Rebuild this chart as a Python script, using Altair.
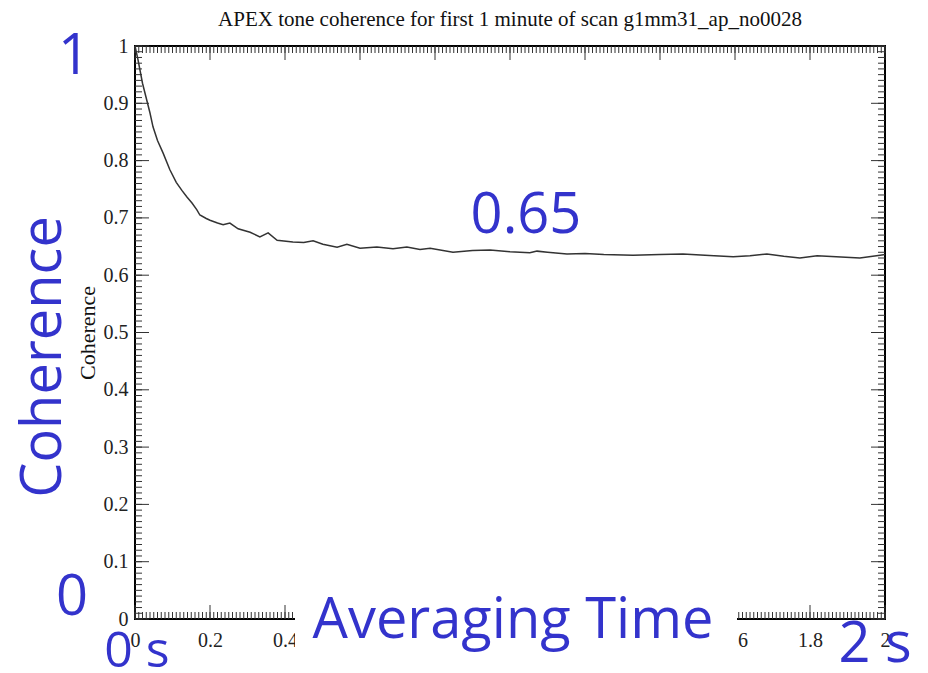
import altair as alt
import pandas as pd

# ---- data ----
times = [0, 0.008, 0.02, 0.04, 0.048, 0.06, 0.075, 0.093, 0.11, 0.125,
         0.139, 0.152, 0.165, 0.173, 0.19, 0.2, 0.22, 0.235, 0.253, 0.275,
         0.307, 0.333, 0.355, 0.379, 0.421, 0.45, 0.475, 0.501, 0.539, 0.565,
         0.6, 0.645, 0.688, 0.725, 0.76, 0.787, 0.848, 0.9, 0.947, 1.0,
         1.053, 1.072, 1.1, 1.152, 1.2, 1.25, 1.328, 1.4, 1.461, 1.52,
         1.595, 1.64, 1.685, 1.73, 1.773, 1.819, 1.87, 1.933, 1.987, 2.0]
coherence = [1.0, 0.976, 0.935, 0.883, 0.859, 0.835, 0.813, 0.784, 0.762, 0.748,
             0.736, 0.726, 0.714, 0.705, 0.699, 0.696, 0.691, 0.688, 0.691, 0.681,
             0.675, 0.667, 0.674, 0.661, 0.658, 0.657, 0.660, 0.654, 0.649, 0.654,
             0.647, 0.649, 0.646, 0.649, 0.645, 0.647, 0.640, 0.643, 0.644, 0.641,
             0.639, 0.642, 0.640, 0.637, 0.638, 0.636, 0.635, 0.636, 0.637, 0.635,
             0.632, 0.634, 0.637, 0.633, 0.630, 0.634, 0.632, 0.630, 0.635, 0.636]

x_major = [0, 0.2, 0.4, 0.6, 0.8, 1.0, 1.2, 1.4, 1.6, 1.8, 2.0]
y_major = [0, 0.1, 0.2, 0.3, 0.4, 0.5, 0.6, 0.7, 0.8, 0.9, 1.0]
x_minor = [i / 100 for i in range(0, 201)]
y_minor = [i / 100 for i in range(0, 101)]

title_text = "APEX tone coherence for first 1 minute of scan g1mm31_ap_no0028"
y_title = "Coherence"

W, H = 750, 573
SERIF = "Liberation Serif"
BLUE = "#3333CC"
BIG = "Open Sans"

xs = alt.Scale(domain=[0, 2], nice=False, zero=False)
ys = alt.Scale(domain=[0, 1], nice=False, zero=False)

x_axis = alt.Axis(values=x_major, format="~g", title=None, grid=False,
                  domain=False, ticks=False, labelFont=SERIF,
                  labelFontSize=20, labelColor="#222222", labelPadding=11,
                  labelFlush=False, labelOverlap=False)
y_axis = alt.Axis(values=y_major, format="~g", title=y_title, grid=False,
                  domain=False, ticks=False, labelFont=SERIF,
                  labelFontSize=20, labelColor="#222222", labelPadding=7,
                  labelFlush=False, labelOverlap=False,
                  titleFont=SERIF, titleFontSize=22, titleFontWeight="normal",
                  titleColor="#111111", titlePadding=4)

df = pd.DataFrame({"time": times, "coh": coherence})
dxM = pd.DataFrame({"t": x_major})
dxm = pd.DataFrame({"t": x_minor})
dyM = pd.DataFrame({"t": y_major})
dym = pd.DataFrame({"t": y_minor})
one = pd.DataFrame({"a": [0]})

line = alt.Chart(df).mark_line(color="#333333", strokeWidth=1.5).encode(
    x=alt.X("time:Q", scale=xs, axis=x_axis, title=None),
    y=alt.Y("coh:Q", scale=ys, axis=y_axis, title=y_title),
)

frame = alt.Chart(one).mark_rect(fill=None, stroke="black", strokeWidth=2).encode(
    x=alt.value(0), x2=alt.value(W), y=alt.value(0), y2=alt.value(H))

def xticks(d, L):
    bot = alt.Chart(d).mark_rule(color="#333333", strokeWidth=1).encode(
        x=alt.X("t:Q", scale=xs, axis=x_axis, title=None),
        y=alt.value(H), y2=alt.value(H - L))
    top = alt.Chart(d).mark_rule(color="#333333", strokeWidth=1).encode(
        x=alt.X("t:Q", scale=xs, axis=x_axis, title=None),
        y=alt.value(0), y2=alt.value(L))
    return [bot, top]

def yticks(d, L):
    left = alt.Chart(d).mark_rule(color="#333333", strokeWidth=1).encode(
        y=alt.Y("t:Q", scale=ys, axis=y_axis, title=y_title),
        x=alt.value(0), x2=alt.value(L))
    right = alt.Chart(d).mark_rule(color="#333333", strokeWidth=1).encode(
        y=alt.Y("t:Q", scale=ys, axis=y_axis, title=y_title),
        x=alt.value(W), x2=alt.value(W - L))
    return [left, right]

ticks = xticks(dxM, 14) + xticks(dxm, 7) + yticks(dyM, 14) + yticks(dym, 7)

cover = alt.Chart(one).mark_rect(fill="white", stroke=None).encode(
    x=alt.value(160), x2=alt.value(602), y=alt.value(530), y2=alt.value(622))

def label(txt, x, y, size=56, angle=0, baseline="alphabetic", font=BIG, color=BLUE):
    return alt.Chart(pd.DataFrame({"s": [txt]})).mark_text(
        font=font, fontSize=size, color=color, align="center",
        baseline=baseline, angle=angle).encode(
        text="s:N", x=alt.value(x), y=alt.value(y))

texts = [
    label(title_text, W / 2, -20, size=21, font=SERIF, color="#111111"),
    label("1", -61, 28),
    label("0", -63, 569),
    label("Coherence", -91, 311, angle=270, baseline="middle"),
    label("0.65", 391, 187),
    label("Averaging Time", 378, 592),
    label("0 s", 2, 621, size=50),
    label("2 s", 740, 616),
]

chart = alt.layer(frame, *ticks, line, cover, *texts).properties(
    width=W, height=H,
    autosize=alt.AutoSizeParams(type="none"),
    padding={"left": 135, "top": 46, "right": 43, "bottom": 54},
).configure_view(stroke=None).configure(background="white")

chart.save("out.html", embed_options={"renderer": "svg", "actions": False})
